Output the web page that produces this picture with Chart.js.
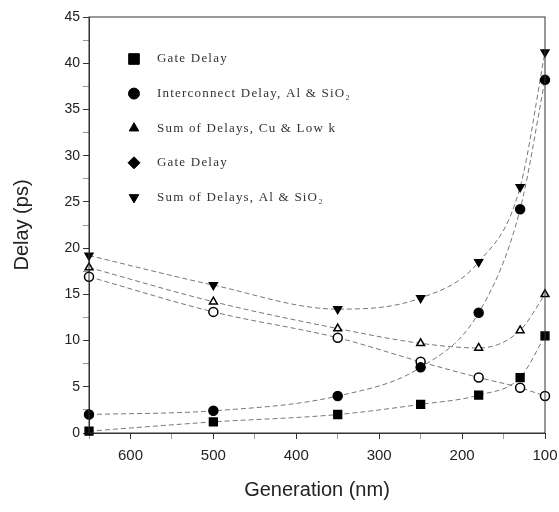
<!DOCTYPE html>
<html>
<head>
<meta charset="utf-8">
<script src="https://cdn.jsdelivr.net/npm/chart.js@4/dist/chart.umd.min.js"></script>
<style>
  html, body { margin: 0; padding: 0; background: #fff; }
  #wrap { width: 559px; height: 512px; }
</style>
</head>
<body>
<div id="wrap"><canvas id="delayChart"></canvas></div>
<script>
// Technology generations (nm)
const generations = [650, 500, 350, 250, 180, 130, 100];

// Delay values (ps)
const gateDelay = [0.2, 1.2, 2.0, 3.1, 4.1, 6.0, 10.5];
const interconnectAlSiO2 = [2.0, 2.4, 4.0, 7.1, 13.0, 24.2, 38.2];
const sumCuLowK = [17.9, 14.2, 11.3, 9.7, 9.2, 11.1, 15.0];
const gateDelay2 = [16.9, 13.1, 10.3, 7.7, 6.0, 4.9, 4.0];
const sumAlSiO2 = [19.2, 16.0, 13.4, 14.6, 18.5, 26.6, 41.2];

const seriesLabels = [
    'Gate Delay',
    'Interconnect Delay, Al & SiO\u2082',
    'Sum of Delays, Cu & Low k',
    'Gate Delay',
    'Sum of Delays, Al & SiO\u2082'
];

const xTicks = [600, 500, 400, 300, 200, 100];
const yTicks = [0, 5, 10, 15, 20, 25, 30, 35, 40, 45];

const tickFont = '"Liberation Sans Narrow", "Liberation Sans", Arial, sans-serif';
const titleFont = '"Liberation Sans", Arial, sans-serif';

function toPoints(vals) {
    return generations.map((g, i) => ({ x: g, y: vals[i] }));
}

function makeSet(label, vals, style, fill, radius, rotation) {
    return {
        label: label,
        data: toPoints(vals),
        borderColor: '#777',
        borderWidth: 1,
        borderDash: [5, 3],
        pointStyle: style,
        pointRotation: rotation || 0,
        pointRadius: radius,
        pointBackgroundColor: fill,
        pointBorderColor: '#000',
        pointBorderWidth: 1.5,
        cubicInterpolationMode: 'monotone',
        clip: false,
        fill: false
    };
}

// legend drawn inside the plot, like the original figure
const legendStyles = [
    { style: 'rect', rot: 0, r: 7.5 },
    { style: 'circle', rot: 0, r: 5.5 },
    { style: 'triangle', rot: 0, r: 5.5 },
    { style: 'rectRot', rot: 0, r: 6 },
    { style: 'triangle', rot: 180, r: 5.5 }
];

const innerLegend = {
    id: 'innerLegend',
    afterDraw(chart) {
        const ctx = chart.ctx;
        const a = chart.chartArea;
        ctx.save();
        // frame around the plot
        ctx.strokeStyle = '#333';
        ctx.lineWidth = 1;
        ctx.strokeRect(a.left, a.top, a.right - a.left, a.bottom - a.top);
        ctx.font = '13px "Liberation Serif", "DejaVu Serif", serif';
        ctx.letterSpacing = '1.2px';
        ctx.textBaseline = 'middle';
        chart.data.datasets.forEach((ds, i) => {
            const y = a.top + 42 + i * 34.6;
            const st = legendStyles[i];
            ctx.fillStyle = '#000';
            ctx.strokeStyle = '#000';
            Chart.helpers.drawPoint(ctx, {
                pointStyle: st.style, rotation: st.rot, radius: st.r, borderWidth: 1
            }, a.left + 45, y);
            ctx.fillStyle = '#333';
            ctx.fillText(seriesLabels[i], a.left + 68, y);
        });
        ctx.restore();
    }
};

const ctx = document.getElementById('delayChart').getContext('2d');
new Chart(ctx, {
    type: 'line',
    data: {
        datasets: [
            makeSet(seriesLabels[0], gateDelay, 'rect', '#000', 5.5),
            makeSet(seriesLabels[1], interconnectAlSiO2, 'circle', '#000', 4.5),
            makeSet(seriesLabels[2], sumCuLowK, 'triangle', '#fff', 4.5),
            makeSet(seriesLabels[3], gateDelay2, 'circle', '#fff', 4.5),
            makeSet(seriesLabels[4], sumAlSiO2, 'triangle', '#000', 4.5, 180)
        ]
    },
    options: {
        responsive: true,
        maintainAspectRatio: false,
        animation: false,
        layout: { padding: { top: 17, right: 14, left: 2, bottom: 6 } },
        plugins: {
            legend: { display: false },
            tooltip: { enabled: false }
        },
        scales: {
            x: {
                type: 'linear',
                reverse: true,
                min: 100,
                max: 650,
                afterFit: s => { s.height = 73; s.paddingLeft = 0; s.paddingRight = 0; },
                ticks: {
                    stepSize: 50,
                    autoSkip: false,
                    maxRotation: 0,
                    padding: 8,
                    color: '#222',
                    font: { family: tickFont, size: 15 },
                    callback: v => xTicks.includes(v) ? String(v) : ''
                },
                grid: {
                    drawOnChartArea: false,
                    tickLength: 6,
                    tickColor: c => xTicks.includes(c.tick && c.tick.value) ? '#333' : '#999'
                },
                border: { color: '#333', width: 1 },
                title: {
                    display: true,
                    text: 'Generation (nm)',
                    color: '#222',
                    font: { family: titleFont, size: 20 }
                }
            },
            y: {
                min: 0,
                max: 45,
                afterFit: s => { s.width = 87; s.paddingTop = 0; s.paddingBottom = 0; },
                ticks: {
                    stepSize: 2.5,
                    autoSkip: false,
                    color: '#222',
                    font: { family: tickFont, size: 14 },
                    callback: v => yTicks.includes(v) ? String(v) : ''
                },
                grid: {
                    drawOnChartArea: false,
                    tickLength: 6,
                    tickColor: c => yTicks.includes(c.tick && c.tick.value) ? '#333' : '#999'
                },
                border: { color: '#333', width: 1 },
                title: {
                    display: true,
                    text: 'Delay (ps)',
                    color: '#222',
                    font: { family: titleFont, size: 20 },
                    padding: { top: 8, bottom: 4 }
                }
            }
        }
    },
    plugins: [innerLegend]
});
</script>
</body>
</html>
